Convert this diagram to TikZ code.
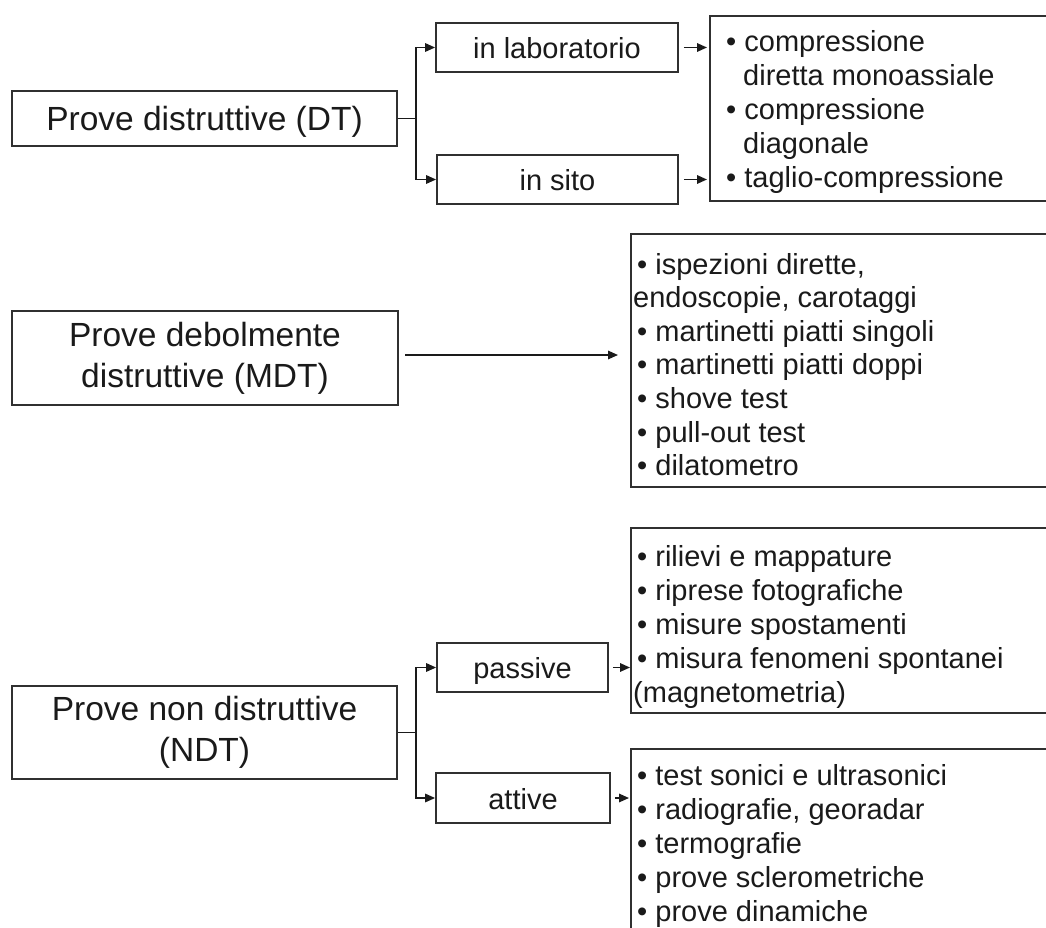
\documentclass[tikz,border=0pt]{standalone}
\usepackage{fontspec}
\setmainfont{Liberation Sans}
\usetikzlibrary{arrows.meta}
\definecolor{ink}{HTML}{1A1A1A}
\definecolor{edge}{HTML}{303030}
\begin{document}
\begin{tikzpicture}[x=1pt,y=-1pt,
  box/.style={draw=edge, line width=1.8pt, inner sep=0pt, text=ink, align=center},
  big/.style={font=\fontsize{33.5}{41}\selectfont},
  bigone/.style={big, text height=24pt, text depth=0pt},
  small/.style={font=\fontsize{29}{34}\selectfont, text height=22pt, text depth=0pt},
  listbox/.style={draw=edge, line width=1.8pt, inner sep=0pt, anchor=north west},
  item/.style={anchor=base west, inner sep=0pt, text=ink, font=\fontsize{29}{34}\selectfont},
  conn/.style={draw=ink, line width=1.6pt},
  arr/.style={conn, -{Triangle[length=10pt,width=8.5pt]}}]
\useasboundingbox (0,0) rectangle (1046,928);
\clip (0,0) rectangle (1046,928);
\fill[white] (0,0) rectangle (1046,928);

% ---- DT ----
\node[box, bigone, minimum width=385pt, minimum height=55pt] (dt) at (204.5,118.5) {Prove distruttive (DT)};
\node[box, small, minimum width=242pt, minimum height=49pt] (lab) at (557,47.5) {in laboratorio};
\node[box, small, minimum width=241pt, minimum height=49pt] (sito) at (557.5,179.5) {in sito};
\node[listbox, minimum width=351pt, minimum height=185pt] (l1) at (709,15) {};
\node[item] (l1a) at (726,52) {• compressione};
\node[item] (l1b) at (743,86) {diretta monoassiale};
\node[item] (l1c) at (726,120) {• compressione};
\node[item] (l1d) at (743,154) {diagonale};
\node[item] (l1e) at (726,188) {• taglio-compressione};

\coordinate (j1) at ([xshift=18pt]dt.east);
\draw[conn] (dt.east) -- (j1);
\draw[arr] (j1) |- (lab.west);
\draw[arr] (j1) |- (sito.west);
\draw[arr, shorten >=2pt] ([xshift=5pt]lab.east) -- (lab.east -| l1.west);
\draw[arr, shorten >=2pt] ([xshift=5pt]sito.east) -- (sito.east -| l1.west);

% ---- MDT ----
\node[box, big, minimum width=386pt, minimum height=94pt] (mdt) at (205,358) {Prove debolmente\\distruttive (MDT)};
\node[listbox, minimum width=430pt, minimum height=253pt] (l2) at (630,233) {};
\node[item] (l2a) at (637,274) {• ispezioni dirette,};
\node[item] (l2b) at (633,307.6) {endoscopie, carotaggi};
\node[item] (l2c) at (637,341.2) {• martinetti piatti singoli};
\node[item] (l2d) at (637,374.8) {• martinetti piatti doppi};
\node[item] (l2e) at (637,408.4) {• shove test};
\node[item] (l2f) at (637,442) {• pull-out test};
\node[item] (l2g) at (637,475.6) {• dilatometro};
\coordinate (m1) at (405,355);
\draw[arr, shorten >=12pt] (m1) -- (m1 -| l2.west);

% ---- NDT ----
\node[box, big, minimum width=385pt, minimum height=93pt] (ndt) at (204.5,732.5) {Prove non distruttive\\(NDT)};
\node[box, small, minimum width=171pt, minimum height=49pt] (pas) at (522.5,667.5) {passive};
\node[box, small, minimum width=174pt, minimum height=50pt] (att) at (523,798) {attive};
\node[listbox, minimum width=430pt, minimum height=185pt] (l3) at (630,527) {};
\node[item] (l3a) at (637,566) {• rilievi e mappature};
\node[item] (l3b) at (637,600) {• riprese fotografiche};
\node[item] (l3c) at (637,634) {• misure spostamenti};
\node[item] (l3d) at (637,668) {• misura fenomeni spontanei};
\node[item] (l3e) at (633,702) {(magnetometria)};
\node[listbox, minimum width=430pt, minimum height=220pt] (l4) at (630,748) {};
\node[item] (l4a) at (637,785) {• test sonici e ultrasonici};
\node[item] (l4b) at (637,819) {• radiografie, georadar};
\node[item] (l4c) at (637,853) {• termografie};
\node[item] (l4d) at (637,887) {• prove sclerometriche};
\node[item] (l4e) at (637,921) {• prove dinamiche};

\coordinate (j3) at ([xshift=18pt]ndt.east);
\draw[conn] (ndt.east) -- (j3);
\draw[arr] (j3) |- (pas.west);
\draw[arr] (j3) |- (att.west);
\draw[arr] ([xshift=4pt]pas.east) -- (pas.east -| l3.west);
\draw[arr, shorten >=1pt] ([xshift=4pt]att.east) -- (att.east -| l4.west);
\end{tikzpicture}
\end{document}
